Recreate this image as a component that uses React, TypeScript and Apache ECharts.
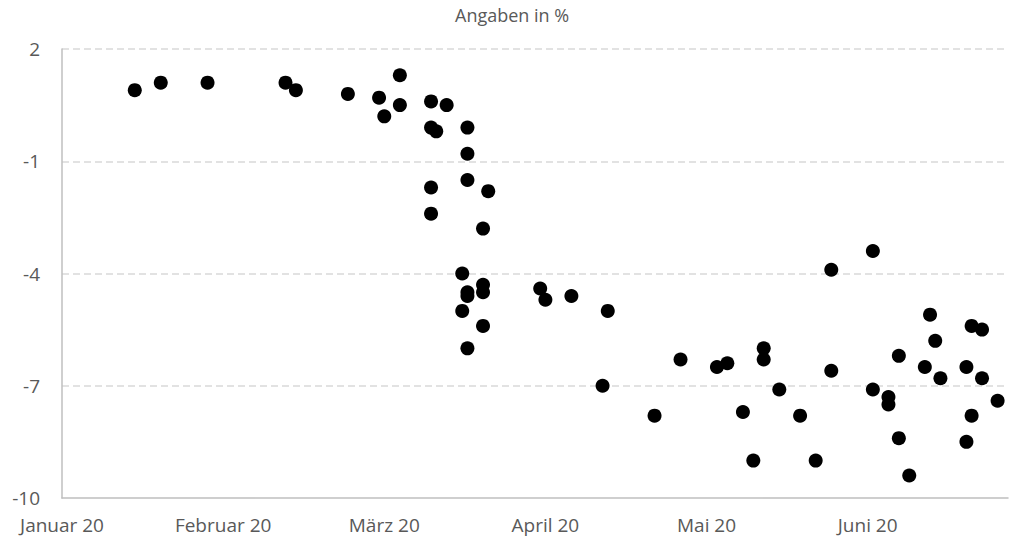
import React, { useEffect, useRef } from "react";
import * as echarts from "echarts";

const TITLE = "Angaben in %";
const MONTHS_DE = ["Januar", "Februar", "März", "April", "Mai", "Juni", "Juli"];
const Y_TICKS = [-10, -7, -4, -1, 2];
const GRID_VALUES = [-7, -4, -1, 2];

const dates = [
  "2020-01-15", "2020-01-20", "2020-01-29", "2020-02-13", "2020-02-15", "2020-02-25",
  "2020-03-02", "2020-03-03", "2020-03-06", "2020-03-06", "2020-03-12", "2020-03-15",
  "2020-03-12", "2020-03-13", "2020-03-19", "2020-03-19", "2020-03-19", "2020-03-23",
  "2020-03-12", "2020-03-12", "2020-03-22", "2020-03-18", "2020-03-22", "2020-03-22",
  "2020-03-19", "2020-03-19", "2020-03-18", "2020-03-22", "2020-03-19",
  "2020-04-02", "2020-04-03", "2020-04-08", "2020-04-15", "2020-04-14", "2020-04-24",
  "2020-04-29", "2020-05-06", "2020-05-08", "2020-05-11", "2020-05-13", "2020-05-15",
  "2020-05-15", "2020-05-18", "2020-05-22", "2020-05-25", "2020-05-28", "2020-05-28",
  "2020-06-05", "2020-06-05", "2020-06-08", "2020-06-08", "2020-06-10", "2020-06-10",
  "2020-06-12", "2020-06-15", "2020-06-16", "2020-06-17", "2020-06-18", "2020-06-23",
  "2020-06-23", "2020-06-24", "2020-06-24", "2020-06-26", "2020-06-26", "2020-06-29",
];

const values = [
  0.9, 1.1, 1.1, 1.1, 0.9, 0.8,
  0.7, 0.2, 1.3, 0.5, 0.6, 0.5,
  -0.1, -0.2, -0.1, -0.8, -1.5, -1.8,
  -1.7, -2.4, -2.8, -4.0, -4.3, -4.5,
  -4.5, -4.6, -5.0, -5.4, -6.0,
  -4.4, -4.7, -4.6, -5.0, -7.0, -7.8,
  -6.3, -6.5, -6.4, -7.7, -9.0, -6.0,
  -6.3, -7.1, -7.8, -9.0, -3.9, -6.6,
  -3.4, -7.1, -7.3, -7.5, -6.2, -8.4,
  -9.4, -6.5, -5.1, -5.8, -6.8, -6.5,
  -8.5, -5.4, -7.8, -5.5, -6.8, -7.4,
];

const START = Date.UTC(2020, 0, 1);
const DAY = 86400000;
const X_MIN = 0;
const X_MAX = (Date.UTC(2020, 6, 1) - START) / DAY; // 1 Jul 2020
const X_INTERVAL = 31;

const toDay = (s: string) => {
  const [y, m, d] = s.split("-").map(Number);
  return (Date.UTC(y, m - 1, d) - START) / DAY;
};

const FONT = "'Open Sans', 'Noto Sans', sans-serif";
const LABEL_COLOR = "#595959";

export default function App() {
  const ref = useRef<HTMLDivElement>(null);
  useEffect(() => {
    if (!ref.current) return;
    const chart = echarts.init(ref.current, undefined, { renderer: "svg" });
    const points = dates.map((d, i) => [toDay(d), values[i]]);
    chart.setOption({
      animation: false,
      title: {
        text: TITLE,
        left: 455,
        top: 6,
        padding: 0,
        textStyle: { fontFamily: FONT, fontSize: 18, fontWeight: "normal", color: LABEL_COLOR },
      },
      grid: { left: 62, right: 1, top: 49, bottom: 38, containLabel: false },
      xAxis: {
        type: "value",
        min: X_MIN,
        max: X_MAX,
        interval: X_INTERVAL,
        axisLine: { show: true, onZero: false, lineStyle: { color: "#bfbfbf", width: 1.5 } },
        axisTick: { show: false },
        splitLine: { show: false },
        axisLabel: {
          showMaxLabel: false,
          margin: 17,
          lineHeight: 19,
          fontFamily: FONT,
          fontSize: 19,
          color: LABEL_COLOR,
          formatter: (v: number) => {
            const dt = new Date(START + v * DAY);
            return MONTHS_DE[dt.getUTCMonth()] + " " + String(dt.getUTCFullYear()).slice(2);
          },
        },
      },
      yAxis: {
        type: "value",
        min: Y_TICKS[0],
        max: Y_TICKS[Y_TICKS.length - 1],
        axisLine: { show: true, onZero: false, lineStyle: { color: "#bfbfbf", width: 1.5 } },
        axisTick: { show: false },
        splitLine: { show: false },
        axisLabel: {
          customValues: Y_TICKS,
          margin: 22,
          fontFamily: FONT,
          fontSize: 19,
          color: LABEL_COLOR,
        },
      },
      series: [
        {
          type: "scatter",
          z: 1,
          data: [],
          silent: true,
          markLine: {
            z: 0,
            silent: true,
            symbol: "none",
            label: { show: false },
            lineStyle: { color: "#d9d9d9", type: [7, 4], width: 1.5 },
            data: GRID_VALUES.map((v) => ({ yAxis: v })),
          },
        },
        {
          type: "scatter",
          z: 10,
          symbol: "circle",
          symbolSize: 14,
          itemStyle: { color: "#000000", opacity: 1 },
          data: points,
        },
      ],
    });
    return () => chart.dispose();
  }, []);
  return (
    <div
      ref={ref}
      style={{ position: "absolute", left: 0, top: 0, width: 1009, height: 536 }}
    />
  );
}
